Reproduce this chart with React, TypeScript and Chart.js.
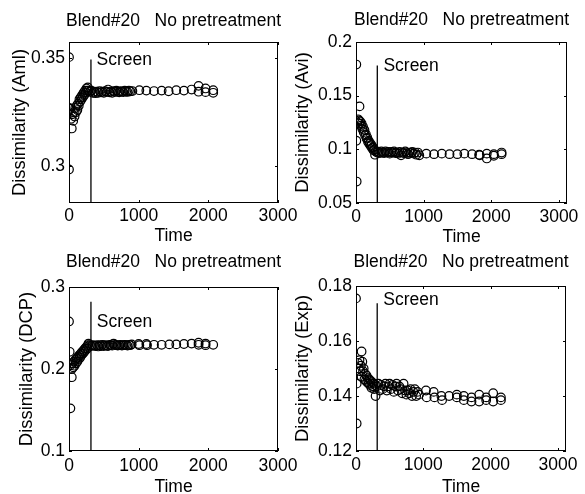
import React, { useEffect, useRef } from "react";
import { Chart, registerables } from "chart.js";

Chart.register(...registerables);

const panelTitle = "Blend#20   No pretreatment";
const screenLabel = "Screen";
const xAxisLabel = "Time";
const timeTicks = [0, 1000, 2000, 3000];
const screenTime = 315;

// Panel 1: Aml
const amlTime = [0, 0, 5, 20, 40, 30, 45, 60, 70, 80, 90, 100, 110, 120, 130, 140, 150, 160, 170, 180, 190, 200, 210, 220, 230, 240, 250, 260, 270, 280, 300, 320, 340, 360, 380, 400, 420, 440, 460, 480, 500, 520, 540, 560, 580, 600, 620, 640, 660, 680, 700, 720, 740, 760, 780, 800, 820, 840, 860, 880, 910, 1010, 1110, 1220, 1330, 1430, 1540, 1650, 1760, 1860, 1860, 1960, 1960, 2070, 2070];
const amlValue = [0.3505, 0.2985, 0.327, 0.3265, 0.3175, 0.322, 0.324, 0.321, 0.325, 0.323, 0.327, 0.325, 0.328, 0.326, 0.329, 0.328, 0.331, 0.330, 0.332, 0.331, 0.333, 0.332, 0.334, 0.333, 0.335, 0.334, 0.336, 0.335, 0.3365, 0.335, 0.3345, 0.3350, 0.3340, 0.3345, 0.3338, 0.3345, 0.3340, 0.3348, 0.3342, 0.3345, 0.3340, 0.3347, 0.3344, 0.3355, 0.3342, 0.3346, 0.3340, 0.3348, 0.3344, 0.3350, 0.3345, 0.3342, 0.3348, 0.3345, 0.3343, 0.3350, 0.3346, 0.3344, 0.3350, 0.3347, 0.3348, 0.3352, 0.3350, 0.3348, 0.3350, 0.3347, 0.3352, 0.3350, 0.3355, 0.3372, 0.3345, 0.3360, 0.3343, 0.3352, 0.3340];
const amlTicks = [0.3, 0.35];

// Panel 2: Avi
const aviTime = [5, 10, 5, 52, 21, 31, 42, 52, 62, 73, 83, 94, 104, 114, 125, 135, 146, 156, 166, 177, 187, 198, 208, 218, 229, 239, 250, 260, 270, 281, 291, 312, 333, 354, 374, 395, 416, 437, 458, 478, 499, 520, 541, 562, 582, 603, 624, 645, 666, 686, 707, 728, 749, 770, 790, 811, 832, 853, 874, 894, 915, 936, 1040, 1154, 1269, 1383, 1498, 1602, 1716, 1820, 1830, 1934, 1934, 2038, 2038, 2153, 2153];
const aviValue = [0.179, 0.070, 0.108, 0.140, 0.125, 0.128, 0.127, 0.124, 0.126, 0.122, 0.124, 0.119, 0.121, 0.116, 0.118, 0.113, 0.114, 0.110, 0.111, 0.107, 0.108, 0.105, 0.106, 0.103, 0.104, 0.101, 0.102, 0.099, 0.100, 0.095, 0.098, 0.097, 0.0975, 0.0965, 0.098, 0.097, 0.0965, 0.098, 0.097, 0.0975, 0.096, 0.0975, 0.097, 0.098, 0.0965, 0.097, 0.096, 0.0975, 0.0945, 0.097, 0.0965, 0.098, 0.0965, 0.0955, 0.097, 0.0965, 0.0975, 0.096, 0.097, 0.095, 0.097, 0.0945, 0.096, 0.0955, 0.096, 0.0955, 0.0955, 0.096, 0.0955, 0.095, 0.0945, 0.096, 0.0915, 0.0955, 0.094, 0.097, 0.0955];
const aviTicks = [0.05, 0.1, 0.15, 0.2];

// Panel 3: DCP
const dcpTime = [0, 10, 20, 40, 30, 40, 50, 60, 70, 80, 90, 100, 110, 120, 130, 140, 150, 160, 170, 180, 190, 200, 210, 220, 230, 240, 250, 260, 270, 280, 300, 320, 340, 360, 380, 400, 420, 440, 460, 480, 500, 520, 540, 560, 580, 600, 620, 640, 660, 680, 700, 720, 740, 760, 780, 800, 820, 840, 860, 880, 900, 1000, 1010, 1110, 1120, 1220, 1330, 1440, 1540, 1650, 1760, 1860, 1860, 1960, 1960, 2070];
const dcpValue = [0.258, 0.221, 0.152, 0.190, 0.205, 0.200, 0.207, 0.202, 0.209, 0.204, 0.211, 0.207, 0.213, 0.209, 0.215, 0.212, 0.217, 0.214, 0.219, 0.217, 0.221, 0.219, 0.223, 0.221, 0.225, 0.223, 0.227, 0.225, 0.229, 0.231, 0.229, 0.228, 0.229, 0.2285, 0.228, 0.229, 0.2275, 0.229, 0.228, 0.2295, 0.228, 0.229, 0.2285, 0.228, 0.2295, 0.229, 0.2285, 0.231, 0.2295, 0.229, 0.2285, 0.229, 0.2295, 0.2285, 0.229, 0.2295, 0.229, 0.2285, 0.2295, 0.229, 0.230, 0.2305, 0.229, 0.2305, 0.229, 0.2295, 0.2295, 0.230, 0.230, 0.2305, 0.231, 0.232, 0.2295, 0.231, 0.229, 0.2295];
const dcpTicks = [0.1, 0.2, 0.3];

// Panel 4: Exp
const expTime = [0, 10, 10, 83, 31, 42, 52, 62, 73, 83, 94, 104, 114, 125, 135, 146, 156, 166, 177, 187, 198, 208, 218, 229, 239, 250, 260, 270, 281, 291, 312, 333, 354, 374, 395, 416, 437, 458, 478, 499, 520, 541, 562, 582, 603, 624, 645, 666, 686, 707, 728, 749, 770, 790, 811, 832, 853, 874, 894, 915, 936, 1040, 1050, 1154, 1165, 1269, 1279, 1383, 1498, 1498, 1602, 1602, 1716, 1716, 1830, 1830, 1934, 1934, 2038, 2038, 2153, 2153];
const expValue = [0.1755, 0.130, 0.1445, 0.1562, 0.152, 0.150, 0.153, 0.149, 0.151, 0.147, 0.1525, 0.149, 0.150, 0.146, 0.148, 0.1455, 0.1475, 0.145, 0.1465, 0.1445, 0.146, 0.144, 0.1455, 0.143, 0.145, 0.1435, 0.1445, 0.1425, 0.144, 0.140, 0.1435, 0.1445, 0.142, 0.144, 0.1425, 0.1435, 0.1445, 0.142, 0.1435, 0.1445, 0.1425, 0.144, 0.1415, 0.1435, 0.1445, 0.142, 0.1435, 0.1425, 0.141, 0.1445, 0.142, 0.1405, 0.142, 0.141, 0.1425, 0.140, 0.1415, 0.1425, 0.140, 0.1415, 0.1405, 0.142, 0.1395, 0.1415, 0.1395, 0.140, 0.1385, 0.140, 0.1395, 0.1405, 0.140, 0.1385, 0.1395, 0.138, 0.1405, 0.138, 0.1395, 0.1385, 0.141, 0.138, 0.1395, 0.1385];
const expTicks = [0.12, 0.14, 0.16, 0.18];

const W = 585;
const H = 494;
const FONT = '"Liberation Sans", Arial, Helvetica, sans-serif';
const FS = 17.5;
const FS_Y = 18.4;

type Panel = {
  yLabel: string;
  time: number[];
  value: number[];
  yTicks: number[];
  yMin: number;
  yMax: number;
  xMax: number;
  screenTop: number;
  screenTextX: number;
  screenTextY: number;
  area: { l: number; t: number; r: number; b: number };
  padLeft: number;
  titleY: number;
  yTitleX: number;
  xTickGap: number;
  xTitleY: number;
};

const panels: Panel[] = [
  {
    yLabel: "Dissimilarity (Aml)", time: amlTime, value: amlValue, yTicks: amlTicks,
    yMin: 0.283, yMax: 0.3575, xMax: 3000, screenTop: 0.3494, screenTextX: 395, screenTextY: 0.3492,
    area: { l: 69, t: 42, r: 278, b: 203 }, padLeft: 0, titleY: 21, yTitleX: 19.5, xTickGap: 3, xTitleY: 236,
  },
  {
    yLabel: "Dissimilarity (Avi)", time: aviTime, value: aviValue, yTicks: aviTicks,
    yMin: 0.05, yMax: 0.2, xMax: 3120, screenTop: 0.178, screenTextX: 405, screenTextY: 0.1776,
    area: { l: 356, t: 42, r: 567, b: 203 }, padLeft: 290, titleY: 20.5, yTitleX: 303, xTickGap: 4, xTitleY: 237.5,
  },
  {
    yLabel: "Dissimilarity (DCP)", time: dcpTime, value: dcpValue, yTicks: dcpTicks,
    yMin: 0.1, yMax: 0.3, xMax: 3000, screenTop: 0.282, screenTextX: 400, screenTextY: 0.2577,
    area: { l: 69, t: 287, r: 278, b: 451 }, padLeft: 0, titleY: 262, yTitleX: 27, xTickGap: 5, xTitleY: 487,
  },
  {
    yLabel: "Dissimilarity (Exp)", time: expTime, value: expValue, yTicks: expTicks,
    yMin: 0.12, yMax: 0.18, xMax: 3120, screenTop: 0.1737, screenTextX: 405, screenTextY: 0.1747,
    area: { l: 356, t: 286, r: 566, b: 451 }, padLeft: 290, titleY: 262, yTitleX: 303, xTickGap: 4, xTitleY: 487,
  },
];

const framePlugin = {
  id: "matlabFrame",
  afterDatasetsDraw(chart: any, _args: any, opts: any) {
    const { ctx, chartArea, scales } = chart;
    const { left, top, right, bottom } = chartArea;
    const p: Panel = opts.panel;
    ctx.save();
    ctx.strokeStyle = "#000";
    ctx.lineWidth = 1;
    ctx.strokeRect(left + 0.5, top + 0.5, right - left - 1, bottom - top - 1);
    ctx.beginPath();
    const tl = 3;
    timeTicks.forEach((v) => {
      const px = Math.round(scales.x.getPixelForValue(v)) + 0.5;
      ctx.moveTo(px, bottom);
      ctx.lineTo(px, bottom - tl);
      ctx.moveTo(px, top);
      ctx.lineTo(px, top + tl);
    });
    p.yTicks.forEach((v) => {
      const py = Math.round(scales.y.getPixelForValue(v)) + 0.5;
      ctx.moveTo(left, py);
      ctx.lineTo(left + tl, py);
      ctx.moveTo(right, py);
      ctx.lineTo(right - tl, py);
    });
    ctx.stroke();
    ctx.fillStyle = "#000";
    ctx.font = `${FS}px ${FONT}`;
    ctx.textBaseline = "middle";
    ctx.textAlign = "center";
    ctx.fillText(panelTitle, (left + right) / 2, p.titleY);
    ctx.textAlign = "left";
    ctx.fillText(
      screenLabel,
      scales.x.getPixelForValue(p.screenTextX),
      scales.y.getPixelForValue(p.screenTextY)
    );
    ctx.restore();
  },
};

function PanelChart({ p }: { p: Panel }) {
  const ref = useRef<HTMLCanvasElement | null>(null);
  useEffect(() => {
    if (!ref.current) return;
    const font = { family: FONT, size: FS };
    const fontY = { family: FONT, size: FS_Y };
    const points = p.time.map((t, i) => ({ x: t, y: p.value[i] }));
    const chart = new Chart(ref.current, {
      type: "scatter",
      data: {
        datasets: [
          {
            data: points,
            pointStyle: "circle",
            pointRadius: 4.3,
            pointBorderWidth: 1.2,
            borderColor: "#000",
            pointBorderColor: "#000",
            backgroundColor: "rgba(0,0,0,0)",
            pointBackgroundColor: "rgba(0,0,0,0)",
            showLine: false,
          } as any,
          {
            type: "line",
            data: [
              { x: screenTime, y: p.yMin },
              { x: screenTime, y: p.screenTop },
            ],
            borderColor: "#000",
            borderWidth: 1.3,
            pointRadius: 0,
            showLine: true,
            fill: false,
          } as any,
        ],
      },
      options: {
        responsive: false,
        animation: false,
        devicePixelRatio: 1,
        events: [],
        layout: {
          padding: {
            left: p.padLeft,
            right: W - p.area.r,
            top: p.area.t,
            bottom: 0,
          },
        },
        plugins: {
          legend: { display: false },
          tooltip: { enabled: false },
          title: { display: false },
          matlabFrame: { panel: p },
        } as any,
        scales: {
          x: {
            type: "linear",
            min: 0,
            max: p.xMax,
            afterBuildTicks: (s: any) => {
              s.ticks = timeTicks.map((v) => ({ value: v }));
            },
            afterFit: (s: any) => {
              s.height = H - p.area.b;
            },
            grid: { display: false, drawTicks: false },
            border: { display: false },
            ticks: {
              autoSkip: false,
              maxRotation: 0,
              padding: p.xTickGap,
              color: "#000",
              font,
              callback: (v: any) => String(v),
            },
            title: {
              display: true,
              text: xAxisLabel,
              color: "#000",
              font,
              padding: { top: 0, bottom: H - p.xTitleY - FS * 0.6 },
            },
          },
          y: {
            type: "linear",
            min: p.yMin,
            max: p.yMax,
            afterBuildTicks: (s: any) => {
              s.ticks = p.yTicks.map((v) => ({ value: v }));
            },
            afterFit: (s: any) => {
              s.width = p.area.l - p.padLeft;
            },
            grid: { display: false, drawTicks: false },
            border: { display: false },
            ticks: {
              autoSkip: false,
              padding: 4,
              color: "#000",
              font,
              callback: (v: any) => String(v),
            },
            title: {
              display: true,
              text: p.yLabel,
              color: "#000",
              font: fontY,
              padding: { top: p.yTitleX - p.padLeft - FS_Y * 0.6, bottom: 0 },
            },
          },
        },
      } as any,
      plugins: [framePlugin as any],
    });
    return () => chart.destroy();
  }, [p]);
  return (
    <canvas
      ref={ref}
      width={W}
      height={H}
      style={{ position: "absolute", left: 0, top: 0, width: W, height: H }}
    />
  );
}

export default function App() {
  return (
    <div
      style={{
        position: "absolute",
        left: 0,
        top: 0,
        width: W,
        height: H,
        background: "#fff",
        overflow: "hidden",
      }}
    >
      {panels.map((p, i) => (
        <PanelChart key={i} p={p} />
      ))}
    </div>
  );
}
